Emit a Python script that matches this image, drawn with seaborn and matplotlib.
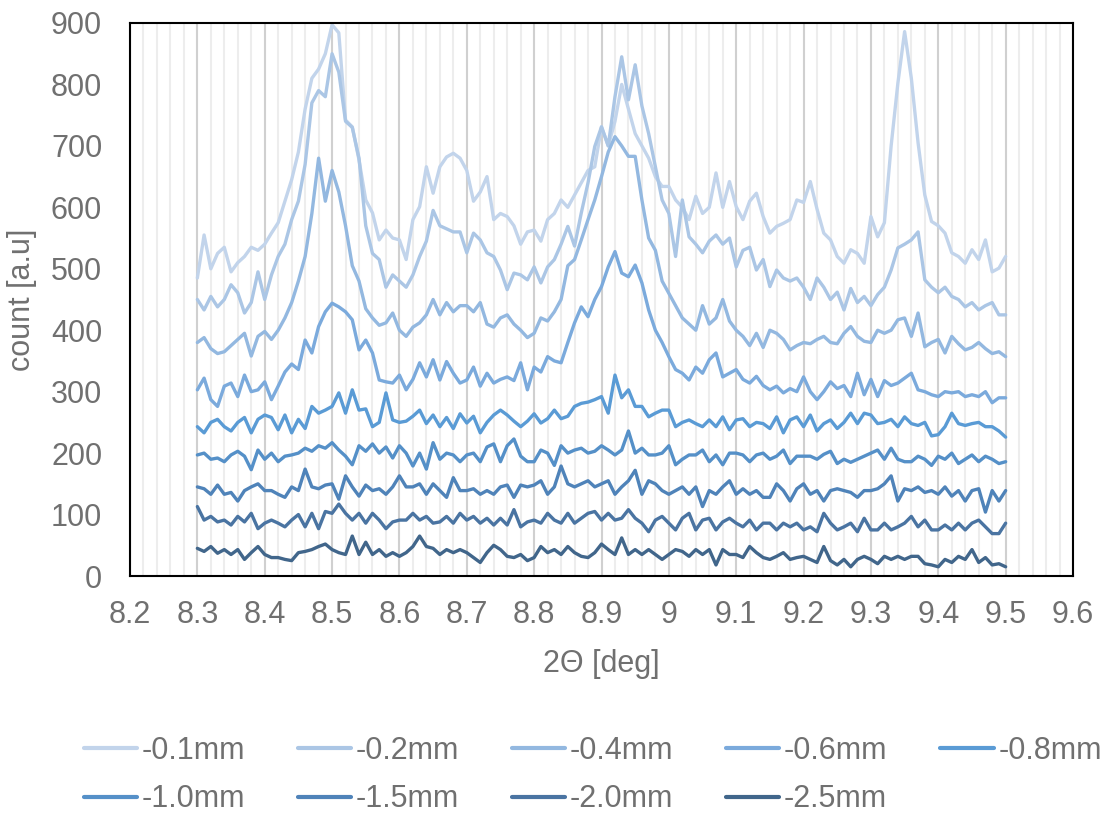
import numpy as np
import pandas as pd
import matplotlib
matplotlib.use("Agg")
import matplotlib.pyplot as plt
from matplotlib.ticker import MultipleLocator, FuncFormatter
import seaborn as sns

# 2theta positions (0.01 deg step, 8.30 .. 9.50)
two_theta = np.round(np.linspace(8.30, 9.50, 121), 2)

depths = ["-0.1mm", "-0.2mm", "-0.4mm", "-0.6mm", "-0.8mm",
          "-1.0mm", "-1.5mm", "-2.0mm", "-2.5mm"]
colors = ["#C2D4EB", "#ABC6E5", "#93B8E0", "#7BAADC", "#5A9BD5",
          "#5590C8", "#4F83B9", "#4A74A2", "#41668B"]

d01 = [485, 555, 500, 525, 535, 495, 510, 520, 535, 530,
       540, 558, 575, 610, 645, 690, 760, 810, 825, 850,
       897, 884, 742, 731, 677, 612, 591, 547, 563, 550,
       547, 515, 580, 601, 666, 623, 666, 682, 688, 680,
       660, 610, 625, 650, 580, 590, 585, 570, 540, 560,
       563, 545, 580, 590, 612, 600, 620, 640, 660, 666,
       731, 700, 740, 800, 760, 720, 700, 680, 650, 634,
       634, 612, 600, 580, 618, 590, 600, 656, 600, 642,
       601, 580, 610, 623, 585, 558, 569, 574, 580, 612,
       608, 642, 597, 558, 547, 520, 509, 531, 525, 509,
       585, 552, 575, 700, 802, 886, 810, 705, 620, 577,
       570, 558, 526, 520, 509, 531, 515, 547, 495, 501,
       520]
d02 = [450, 433, 455, 438, 450, 474, 461, 428, 445, 495,
       450, 490, 520, 540, 580, 610, 670, 770, 790, 780,
       850, 820, 740, 730, 680, 570, 525, 515, 470, 490,
       480, 470, 490, 520, 545, 595, 570, 565, 560, 560,
       526, 558, 547, 526, 520, 498, 466, 493, 490, 482,
       503, 477, 503, 515, 540, 569, 537, 591, 640, 699,
       731, 700, 780, 845, 775, 832, 765, 720, 666, 612,
       590, 520, 612, 552, 540, 526, 545, 555, 540, 550,
       503, 530, 535, 498, 515, 471, 498, 485, 480, 485,
       470, 450, 485, 470, 450, 462, 433, 468, 445, 455,
       440, 458, 470, 498, 534, 540, 547, 560, 482, 470,
       461, 470, 455, 450, 438, 445, 433, 440, 445, 425,
       425]
d04 = [380, 388, 370, 362, 365, 375, 385, 395, 358, 390,
       398, 385, 400, 420, 445, 480, 520, 590, 680, 610,
       660, 625, 570, 505, 480, 435, 420, 408, 412, 428,
       400, 390, 405, 412, 425, 450, 425, 445, 430, 440,
       440, 430, 445, 410, 405, 420, 425, 410, 400, 388,
       395, 420, 415, 430, 450, 505, 515, 547, 580, 612,
       650, 690, 715, 700, 683, 683, 612, 550, 530, 480,
       460, 440, 420, 410, 400, 440, 410, 420, 450, 415,
       400, 390, 375, 395, 372, 400, 395, 385, 368, 375,
       380, 378, 385, 390, 380, 378, 395, 406, 390, 382,
       380, 400, 395, 400, 417, 420, 390, 428, 373, 380,
       385, 363, 390, 378, 368, 372, 380, 370, 362, 365,
       357]
d06 = [303, 322, 287, 276, 309, 314, 292, 327, 300, 303,
       316, 287, 309, 332, 345, 336, 384, 363, 406, 430,
       444, 438, 430, 417, 368, 384, 363, 319, 316, 314,
       327, 303, 320, 347, 324, 352, 319, 349, 330, 314,
       319, 340, 309, 330, 314, 320, 324, 318, 347, 303,
       340, 332, 357, 350, 347, 380, 412, 438, 422, 450,
       471, 503, 528, 493, 487, 506, 477, 433, 400, 380,
       357, 336, 330, 319, 340, 330, 352, 363, 324, 330,
       336, 320, 314, 325, 310, 303, 309, 298, 305, 300,
       324, 300, 287, 300, 316, 305, 310, 292, 330, 295,
       320, 292, 318, 310, 314, 322, 330, 303, 300, 295,
       292, 300, 298, 300, 292, 295, 292, 300, 282, 290,
       290]
d08 = [243, 233, 250, 255, 243, 236, 250, 258, 233, 255,
       262, 258, 238, 262, 233, 255, 240, 276, 265, 270,
       276, 298, 265, 303, 270, 272, 243, 250, 298, 254,
       250, 252, 260, 270, 248, 262, 243, 258, 240, 264,
       249, 260, 233, 250, 262, 270, 262, 252, 243, 252,
       264, 249, 256, 270, 256, 260, 276, 281, 283, 287,
       292, 265, 327, 290, 303, 276, 276, 259, 265, 270,
       270, 243, 250, 254, 248, 243, 254, 243, 259, 238,
       254, 256, 243, 250, 248, 240, 259, 233, 254, 259,
       243, 262, 236, 248, 254, 240, 250, 265, 248, 265,
       262, 248, 250, 255, 243, 259, 248, 245, 250, 228,
       230, 243, 265, 248, 245, 248, 250, 243, 243, 236,
       226]
d10 = [197, 200, 190, 192, 186, 197, 203, 195, 173, 205,
       190, 200, 186, 195, 197, 200, 208, 203, 212, 208,
       217, 205, 195, 181, 212, 203, 215, 200, 210, 192,
       212, 200, 179, 200, 174, 217, 190, 200, 197, 186,
       197, 200, 186, 210, 215, 186, 212, 223, 195, 186,
       186, 205, 200, 180, 212, 200, 205, 208, 200, 203,
       212, 205, 197, 205, 236, 200, 208, 197, 197, 200,
       212, 181, 190, 197, 197, 205, 186, 197, 181, 200,
       200, 197, 186, 197, 200, 190, 195, 205, 183, 195,
       195, 195, 190, 198, 203, 183, 190, 185, 190, 195,
       200, 205, 190, 208, 190, 186, 186, 195, 190, 180,
       195, 190, 200, 183, 190, 197, 186, 195, 190, 183,
       186]
d15 = [145, 142, 133, 148, 133, 136, 122, 139, 145, 150,
       139, 139, 133, 128, 145, 139, 174, 145, 142, 148,
       150, 125, 163, 145, 130, 148, 139, 142, 133, 145,
       163, 145, 145, 150, 133, 150, 139, 128, 160, 139,
       139, 142, 133, 139, 133, 145, 148, 128, 148, 145,
       148, 155, 133, 145, 179, 150, 145, 150, 155, 145,
       150, 155, 133, 145, 155, 172, 133, 155, 150, 139,
       133, 139, 145, 133, 145, 113, 139, 133, 145, 155,
       133, 142, 133, 139, 128, 128, 150, 139, 122, 142,
       150, 133, 139, 122, 139, 142, 139, 136, 128, 139,
       139, 142, 150, 163, 122, 142, 139, 145, 136, 139,
       133, 145, 130, 139, 122, 139, 142, 104, 139, 122,
       139]
d20 = [113, 91, 97, 88, 91, 83, 97, 88, 102, 77,
       86, 91, 86, 80, 91, 100, 80, 102, 77, 105,
       102, 117, 102, 91, 102, 86, 102, 91, 77, 88,
       91, 91, 102, 91, 97, 86, 88, 97, 86, 102,
       91, 97, 86, 94, 83, 94, 83, 108, 80, 88,
       91, 86, 102, 91, 86, 102, 86, 94, 102, 105,
       91, 102, 91, 94, 108, 94, 86, 72, 91, 97,
       86, 75, 94, 102, 75, 91, 94, 75, 88, 94,
       86, 80, 91, 75, 86, 86, 75, 86, 80, 86,
       75, 80, 72, 102, 86, 75, 80, 86, 72, 94,
       75, 75, 86, 75, 80, 86, 97, 80, 91, 75,
       75, 83, 75, 86, 75, 86, 91, 80, 69, 69,
       86]
d25 = [45, 40, 48, 37, 43, 35, 43, 27, 38, 48,
       35, 30, 30, 27, 25, 38, 40, 43, 48, 52,
       43, 38, 35, 65, 35, 55, 35, 43, 32, 38,
       32, 38, 48, 65, 48, 45, 35, 43, 38, 43,
       38, 30, 22, 38, 50, 43, 32, 30, 35, 25,
       30, 48, 38, 43, 35, 48, 38, 32, 30, 38,
       52, 43, 35, 62, 35, 43, 35, 43, 35, 27,
       35, 43, 40, 32, 43, 35, 43, 18, 43, 35,
       35, 30, 48, 38, 30, 27, 32, 38, 27, 30,
       32, 27, 22, 48, 25, 18, 27, 15, 27, 32,
       27, 20, 32, 27, 32, 27, 32, 32, 20, 18,
       15, 27, 22, 32, 27, 43, 22, 30, 18, 20,
       15]

series = [d01, d02, d04, d06, d08, d10, d15, d20, d25]
df = pd.concat([pd.DataFrame({"two_theta": two_theta, "count": vals, "depth": name})
                for name, vals in zip(depths, series)], ignore_index=True)

sns.set_theme(style="white")
plt.rcParams['font.family'] = ['Liberation Sans', 'DejaVu Sans']
text_col = "#707070"

fig = plt.figure(figsize=(11.1, 8.16), dpi=100)
ax = fig.add_axes([130 / 1110, 1 - 576 / 816, 943 / 1110, 553 / 816])

sns.lineplot(data=df, x="two_theta", y="count", hue="depth", hue_order=depths,
             palette=colors, linewidth=2.4, ax=ax, legend=True)

ax.set_xlim(8.2, 9.6)
ax.set_ylim(0, 900)
ax.xaxis.set_major_locator(MultipleLocator(0.1))
ax.xaxis.set_minor_locator(MultipleLocator(0.02))
ax.yaxis.set_major_locator(MultipleLocator(100))
ax.xaxis.set_major_formatter(FuncFormatter(lambda v, _: f"{round(v, 1):g}"))

ax.set_axisbelow(True)
ax.grid(False)
ax.grid(which="major", axis="x", color="#D0D0D0", linewidth=1.5)
ax.grid(which="minor", axis="x", color="#EDEDED", linewidth=1.5)

for sp in ax.spines.values():
    sp.set_visible(True)
    sp.set_color("black")
    sp.set_linewidth(1.5)

ax.tick_params(axis="both", which="both", length=0, labelsize=22, labelcolor=text_col)
ax.tick_params(axis="x", pad=17)
ax.tick_params(axis="y", pad=20)

ax.set_xlabel("2\u0398 [deg]", fontsize=22, color=text_col, labelpad=14)
ax.set_ylabel("count [a.u]", fontsize=22, color=text_col, labelpad=10)

# legend laid out row by row (matplotlib fills column-wise)
handles, labels = ax.get_legend_handles_labels()
ax.legend_.remove()
order = [0, 5, 1, 6, 2, 7, 3, 8, 4]
leg = fig.legend([handles[i] for i in order], [labels[i] for i in order],
                 ncol=5, loc="center", bbox_to_anchor=(0.534, 0.05),
                 frameon=False, fontsize=22, handlelength=1.75, handletextpad=0.15,
                 columnspacing=1.72, labelspacing=0.6, labelcolor=text_col)
for h in leg.get_lines():
    h.set_linewidth(3)

fig.savefig("out.png", dpi=100)
